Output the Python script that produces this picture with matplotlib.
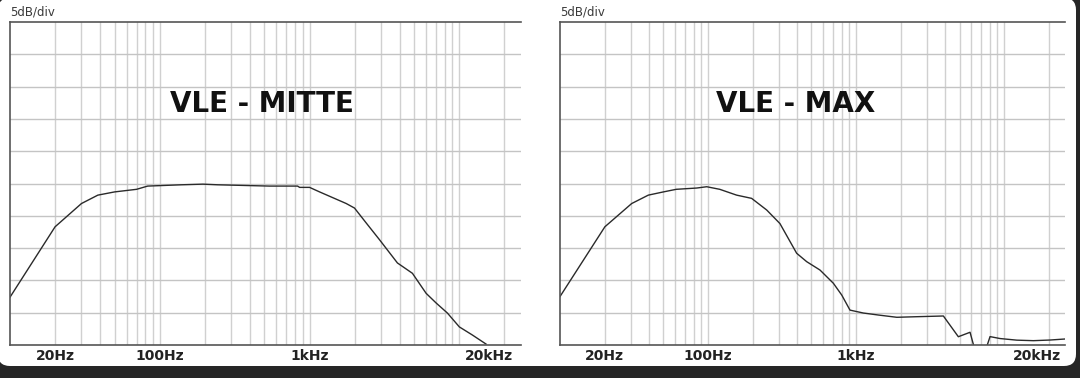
import numpy as np
import matplotlib
matplotlib.use("Agg")
import matplotlib.pyplot as plt
import matplotlib.transforms as mtransforms
from matplotlib.patches import FancyBboxPatch

# frequency response (Hz, dB above bottom line)
mitte_freq = [10, 20, 30, 38.6, 50, 70, 83, 139, 194, 244, 540, 832, 858, 1000,
              1166, 1757, 1995, 2387, 2930, 3860, 4860, 6000, 7000, 8320,
              10000, 12210, 15060]
mitte_db = [7.4, 18.3, 21.9, 23.2, 23.7, 24.1, 24.6, 24.8, 24.9, 24.8, 24.6,
            24.6, 24.4, 24.4, 23.7, 21.9, 21.2, 18.9, 16.3, 12.7, 11.1, 8.0,
            6.5, 4.95, 2.8, 1.55, 0.15]

max_freq = [10, 20.1, 30.5, 39.5, 50, 61, 84, 98, 120, 156, 197, 249, 306, 397,
            464, 571, 703, 800, 910, 1120, 1415, 1885, 2570, 3890, 4910, 5890,
            6570, 7210, 8040, 9390, 12190, 15780, 20460, 25830]
max_db = [7.5, 18.3, 21.9, 23.2, 23.7, 24.1, 24.3, 24.5, 24.1, 23.2, 22.7, 20.9,
          18.8, 14.2, 12.9, 11.6, 9.55, 7.74, 5.4, 4.95, 4.64, 4.29, 4.38, 4.49,
          1.28, 1.97, -2.0, -2.0, 1.3, 1.0, 0.75, 0.67, 0.77, 0.93]

titles = ["VLE - MITTE", "VLE - MAX"]
tick_freqs = [20, 100, 1000, 20000]
tick_labels = ["20Hz", "100Hz", "1kHz", "20kHz"]
grid_freqs = ([20, 30, 40, 50, 60, 70, 80, 90] +
              [100, 200, 300, 400, 500, 600, 700, 800, 900] +
              [1000, 2000, 3000, 4000, 5000, 6000, 7000, 8000, 9000] +
              [10000, 20000])
db_lines = [5, 10, 15, 20, 25, 30, 35, 40, 45]

W, H = 1080, 378
fig = plt.figure(figsize=(W / 100, H / 100), dpi=100)
fig.patch.set_facecolor("#262626")

# white card with rounded corners (pixel coords)
card = FancyBboxPatch((-2 + 12, 12 + 12), 1078 - 24, 368 - 24,
                      boxstyle="round,pad=12", transform=mtransforms.IdentityTransform(),
                      facecolor="white", edgecolor="none", zorder=0)
fig.add_artist(card)

# axes boxes in pixels: (left, right, top, bottom)
boxes = [(10, 521, 22, 345), (560, 1065, 22, 345)]
title_x = [0.493, 0.467]
last_shift = [-15, -12]

for i, (l, r, t, b) in enumerate(boxes):
    ax = fig.add_axes([l / W, (H - b) / H, (r - l) / W, (b - t) / H])
    ax.set_facecolor("white")
    ax.set_xscale("log")
    ax.set_xlim(10, 25800)
    ax.set_ylim(0, 50)

    ax.set_xticks(tick_freqs)
    ax.set_xticklabels(tick_labels, fontsize=10, fontweight="bold", color="#222222")
    ax.set_xticks(grid_freqs, minor=True)
    ax.xaxis.set_minor_formatter(matplotlib.ticker.NullFormatter())
    ax.set_yticks(db_lines)
    ax.set_yticklabels([])
    ax.tick_params(which="both", length=0, pad=3)
    ax.grid(True, which="both", axis="x", color="#d0d0d0", lw=1)
    ax.grid(True, which="major", axis="y", color="#c4c4c4", lw=1)

    # last label pushed left so it stays inside the box
    lab = ax.get_xticklabels()[-1]
    lab.set_transform(lab.get_transform() +
                      mtransforms.ScaledTranslation(last_shift[i] / 100, 0, fig.dpi_scale_trans))

    for side in ["left", "top", "bottom"]:
        ax.spines[side].set_color("#555555")
        ax.spines[side].set_linewidth(1.2)
    ax.spines["right"].set_visible(False)

    if i == 0:
        ax.plot(mitte_freq, mitte_db, color="#2a2a2a", lw=1)
    else:
        ax.plot(max_freq, max_db, color="#2a2a2a", lw=1)

    ax.text(title_x[i], 0.746, titles[i], transform=ax.transAxes, ha="center",
            va="center", fontsize=20, fontweight="bold", color="#111111")
    ax.text(0, 1.012, "5dB/div", transform=ax.transAxes, ha="left", va="bottom",
            fontsize=8.5, color="#3a3a3a")

fig.savefig("out.png", dpi=100, facecolor=fig.get_facecolor())
